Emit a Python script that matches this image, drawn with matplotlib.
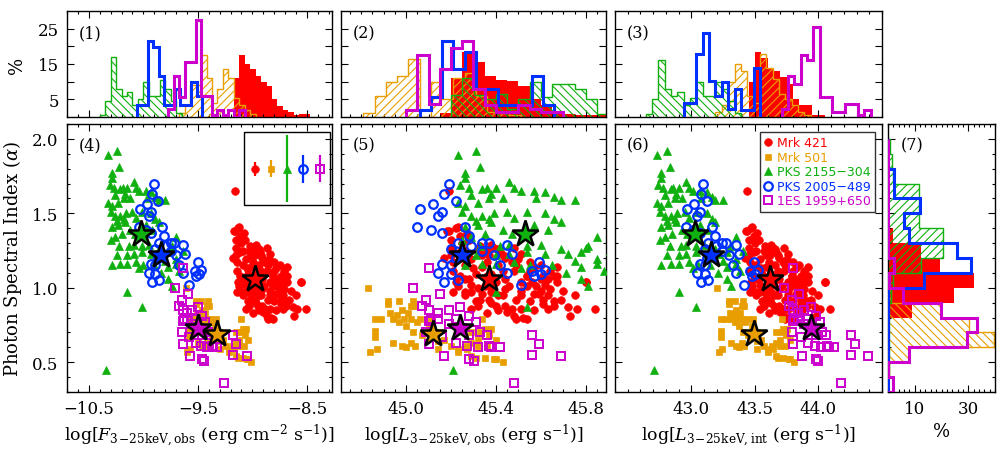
import numpy as np
import matplotlib.pyplot as plt
from matplotlib.ticker import MultipleLocator, FixedLocator, NullFormatter
from matplotlib.lines import Line2D
from matplotlib.patches import Rectangle
import matplotlib.transforms as mtransforms

plt.rcParams['font.family'] = ['DejaVu Serif']
plt.rcParams['mathtext.fontset'] = 'dejavuserif'
plt.rcParams['hatch.linewidth'] = 0.8
plt.rcParams['axes.linewidth'] = 1.0

names = ['Mrk 421', 'Mrk 501', 'PKS 2155\u2212304', 'PKS 2005\u2212489', '1ES 1959+650']
colors = ['#ff0000', '#e89e00', '#0fb00f', '#0030ff', '#cc00cc']

# log(4 pi d_L^2) per source, and offset between observed and intrinsic luminosity
log_4pi_dl2 = [54.35, 54.44, 55.55, 55.09, 54.74]
log_int_corr = [1.75, 1.625, 2.50, 2.095, 1.30]

# mean values (stars) and typical alpha error
mean_logF = [-8.98, -9.32, -10.02, -9.84, -9.50]
mean_alpha = [1.06, 0.69, 1.36, 1.22, 0.73]
typ_err = [0.047, 0.056, 0.224, 0.094, 0.090]

# (log F_3-25keV, alpha) per observation
mrk421 = [(-9.16,1.65),(-9.13,1.40),(-9.17,1.38),(-9.11,1.35),(-9.15,1.32),(-9.07,1.32),(-8.97,1.29),
          (-8.94,1.26),(-8.87,1.27),(-9.03,1.25),(-9.11,1.24),(-9.15,1.22),(-9.06,1.19),(-8.98,1.22),
          (-8.91,1.20),(-8.84,1.23),(-8.80,1.17),(-8.75,1.15),(-8.71,1.11),(-8.69,1.08),(-8.75,1.06),
          (-8.81,1.08),(-8.87,1.11),(-8.94,1.15),(-9.01,1.14),(-9.09,1.15),(-9.14,1.11),(-9.11,1.08),
          (-9.04,1.09),(-8.97,1.09),(-8.91,1.06),(-8.84,1.04),(-8.77,1.01),(-8.71,0.99),(-8.72,0.95),
          (-8.78,0.96),(-8.84,0.98),(-8.91,0.99),(-8.98,1.01),(-9.06,1.02),(-9.12,1.01),(-9.09,0.97),
          (-9.01,0.96),(-8.94,0.95),(-8.86,0.92),(-8.80,0.91),(-8.74,0.89),(-8.69,0.88),(-8.97,0.90),
          (-9.04,0.91),(-8.91,0.88),(-8.84,0.86),(-8.78,0.85),(-8.94,0.85),(-8.87,0.81),(-8.83,0.80),
          (-8.62,0.81),(-8.51,0.86),(-8.55,1.04),(-8.66,0.92),(-8.99,1.08),(-8.87,1.17),(-9.14,1.17),
          (-9.07,1.06),(-9.03,1.00),(-8.95,1.04),(-8.81,1.01),(-8.74,1.08),(-8.68,1.04),(-8.68,1.14),
          (-9.09,1.25),(-8.89,1.01),(-8.99,1.17),(-8.92,1.11),(-8.80,1.11),(-9.15,1.27),(-9.03,0.88),
          (-8.97,0.97),(-8.75,0.98),(-9.14,0.97),(-9.16,1.38),(-9.12,1.41),(-9.08,1.37),(-9.01,1.22),
          (-8.99,1.25),(-8.96,1.27),(-8.92,1.22),(-8.88,1.17),(-8.86,1.15),(-8.81,1.08),(-8.79,1.04),
          (-8.76,0.96),(-8.74,0.92),(-8.72,0.86),(-8.69,0.91),(-8.63,0.87),(-8.59,0.86),(-8.55,1.04),
          (-8.68,1.08),(-8.72,1.06),(-8.86,0.79),(-8.81,0.79),(-8.88,0.86),(-8.95,0.88),(-9.09,0.95),
          (-9.09,1.06),(-9.05,1.13),(-9.06,0.97),(-9.02,0.92),(-8.98,0.92),(-8.92,0.95),(-9.00,1.01),
          (-9.10,1.30),(-9.02,1.28),(-8.93,1.24),(-8.85,1.19),(-8.78,1.13),(-8.73,1.02),(-8.65,0.98),
          (-8.60,0.95),(-8.90,0.84),(-8.99,0.83),(-9.06,0.86),(-9.13,1.04),(-9.18,1.20),(-8.84,0.95)]
mrk501 = [(-9.61,1.00),(-9.58,0.79),(-9.58,0.71),(-9.58,0.67),(-9.57,0.59),(-9.55,0.79),(-9.52,0.89),
          (-9.51,0.83),(-9.50,0.63),(-9.50,0.79),(-9.48,0.82),(-9.47,0.91),(-9.47,0.77),(-9.46,0.85),
          (-9.45,0.79),(-9.44,0.74),(-9.43,0.83),(-9.42,0.88),(-9.42,0.79),(-9.41,0.70),(-9.39,0.77),
          (-9.42,0.63),(-9.44,0.60),(-9.46,0.61),(-9.33,0.79),(-9.30,0.70),(-9.27,0.65),(-9.24,0.61),
          (-9.21,0.59),(-9.18,0.61),(-9.15,0.63),(-9.12,0.65),(-9.11,0.70),(-9.10,0.79),(-9.06,0.72),
          (-9.07,0.68),(-9.08,0.61),(-9.05,0.52),(-9.01,0.50),(-9.13,0.53),(-9.52,0.91),(-9.41,0.91),
          (-9.34,0.74),(-9.15,0.70),(-9.09,0.72),(-9.04,0.65),(-9.12,0.61),(-9.17,0.59),(-9.21,0.57),
          (-9.15,0.54),(-9.09,0.53),(-9.04,0.52),(-9.30,0.64),(-9.37,0.68),(-9.40,0.61),(-9.30,0.59),
          (-9.60,0.57),(-9.40,0.88),(-9.38,0.79)]
pks2155 = [(-10.32,1.89),(-10.24,1.92),(-10.22,1.81),(-10.29,1.77),(-10.29,1.74),(-10.31,1.69),
           (-10.27,1.67),(-10.21,1.66),(-10.19,1.67),(-10.15,1.67),(-10.09,1.71),(-10.07,1.67),
           (-10.17,1.63),(-10.26,1.62),(-10.32,1.57),(-10.29,1.55),(-10.23,1.57),(-10.18,1.60),
           (-10.12,1.60),(-10.04,1.65),(-9.98,1.65),(-9.97,1.60),(-9.93,1.64),(-9.89,1.61),
           (-9.86,1.59),(-9.80,1.59),(-10.26,1.48),(-10.30,1.51),(-10.21,1.48),(-10.16,1.50),
           (-10.10,1.51),(-10.07,1.47),(-10.01,1.51),(-9.93,1.50),(-9.89,1.46),(-9.86,1.44),
           (-9.92,1.39),(-10.29,1.41),(-10.23,1.42),(-10.17,1.44),(-10.12,1.39),(-10.08,1.36),
           (-10.20,1.36),(-10.26,1.34),(-10.30,1.32),(-10.22,1.28),(-10.13,1.28),(-10.09,1.29),
           (-10.01,1.28),(-9.95,1.29),(-9.86,1.26),(-9.75,1.27),(-9.70,1.34),(-9.74,1.28),
           (-10.15,1.22),(-10.09,1.23),(-10.01,1.24),(-9.93,1.23),(-9.83,1.23),(-9.77,1.24),
           (-9.70,1.19),(-10.29,1.15),(-10.15,1.16),(-10.07,1.17),(-10.00,1.15),(-9.90,1.15),
           (-9.77,1.14),(-9.70,1.16),(-9.67,1.11),(-9.84,1.10),(-9.77,1.06),(-9.74,1.01),
           (-10.15,0.97),(-10.01,0.87),(-10.34,0.45),(-10.24,1.45),(-10.18,1.46),(-10.02,1.36),
           (-9.98,1.42),(-10.24,1.22),(-10.04,1.13),(-9.80,1.18),(-9.64,1.25),(-10.21,1.16)]
pks2005 = [(-9.90,1.70),(-9.92,1.63),(-10.03,1.53),(-9.97,1.56),(-9.93,1.51),(-9.95,1.48),(-9.87,1.58),
           (-10.04,1.41),(-9.98,1.39),(-9.93,1.37),(-9.83,1.41),(-9.81,1.35),(-9.80,1.28),(-9.86,1.30),
           (-9.89,1.26),(-9.93,1.16),(-9.95,1.10),(-9.89,1.09),(-9.92,1.04),(-9.86,1.05),(-9.89,1.15),
           (-9.83,1.22),(-9.75,1.25),(-9.72,1.30),(-9.70,1.22),(-9.64,1.29),(-9.62,1.23),(-9.67,1.15),
           (-9.64,1.10),(-9.50,1.17),(-9.53,1.11),(-9.49,1.09),(-9.52,1.08),(-9.47,1.12),(-9.58,1.02),
           (-9.75,1.30),(-9.87,1.20)]
es1959 = [(-9.64,1.13),(-9.71,1.00),(-9.59,0.96),(-9.65,0.92),(-9.64,0.85),(-9.63,0.79),(-9.55,0.85),
          (-9.50,0.87),(-9.46,0.81),(-9.43,0.77),(-9.65,0.70),(-9.58,0.67),(-9.52,0.63),(-9.47,0.61),
          (-9.42,0.60),(-9.36,0.60),(-9.32,0.60),(-9.38,0.68),(-9.64,0.62),(-9.57,0.54),(-9.44,0.51),
          (-9.18,0.68),(-9.15,0.62),(-9.18,0.55),(-9.05,0.54),(-9.26,0.36),(-9.60,0.79),(-9.52,0.79),
          (-9.60,0.83),(-9.64,0.78),(-9.55,0.76),(-9.49,0.73),(-9.41,0.70),(-9.46,0.68),(-9.67,0.88),
          (-9.46,0.52),(-9.37,0.61)]
obs = [mrk421, mrk501, pks2155, pks2005, es1959]

# histograms (percent), bin width 0.05 dex; first bin edge per source
h1_start = [-9.17, -9.67, -10.40, -10.06, -9.77]
h1 = [[11, 17.4, 15, 13.6, 11.7, 10, 8.7, 5.2, 3.1, 1.9, 1.4, 0.5, 0.9, 0.9],
      [1, 3.5, 9, 9, 17.5, 11, 4, 8, 13.6, 11, 5.5, 3.5, 1.9, 0.9],
      [0.5, 4.5, 17, 8, 6, 7, 3.5, 5, 10, 6, 6, 10.5, 8, 4.5, 1],
      [3.5, 3.5, 21.6, 19.7, 11.5, 3.5, 3.5, 8, 3.5, 3.5, 10, 6],
      [2.3, 11.7, 5.6, 15.7, 15.7, 27.5, 6, 6, 0.5, 1.9, 0.5, 1.9, 0, 1.9]]
h2_start = [45.15, 44.81, 45.20, 45.06, 45.00]
h2 = [[1.1, 11, 18.5, 15.7, 11.5, 10.6, 10.3, 8.7, 5, 3.5, 1.4, 0.9, 0.5, 0.5, 0.5],
      [1, 6, 10, 11.5, 16.3, 0, 10, 5, 11, 12.5, 6, 1.5, 1, 0.5],
      [6.3, 11, 6.1, 5.2, 6.6, 2.3, 5.2, 10, 5.6, 9.4, 9.4, 8, 5.2, 0.7],
      [1.9, 5.6, 21.6, 13.6, 18.3, 7.8, 7.8, 3.5, 3.5, 3.5, 11.7, 3.5],
      [1.9, 17.5, 3.8, 13.6, 19.4, 21.6, 7.8, 3.5, 1.4, 1.4, 3.5, 2.3, 1.4, 1.4]]
h3_start = [43.45, 43.19, 42.64, 42.94, 43.71]
h3 = [[9.9, 18.3, 16.6, 13.6, 13.1, 11.3, 9.4, 5.2, 3.3, 3.3, 0.5, 0.5],
      [1.5, 3.5, 10, 15, 13, 6, 4, 17.8, 14, 10.8, 6.6, 5.2, 3.3, 1.4, 0.5],
      [0.7, 5.2, 16, 8, 6, 7, 3.5, 5.5, 10, 6, 6, 10, 8, 4.5, 1],
      [4, 4, 17.8, 23.8, 10.3, 5.9, 10, 2.3, 8, 1.9, 1.9, 13.8],
      [2.3, 11.7, 9.4, 17.5, 16, 25.6, 5.6, 5.6, 1.4, 1.4, 3.8, 3.8, 0.5, 1.9]]
# alpha histograms, bins 0.3-2.0 step 0.1
alpha_edges = np.round(np.arange(0.3, 2.01, 0.1), 2)
h7 = [[0, 0, 0, 0, 0, 8.8, 24.5, 32, 19.5, 12.4, 2, 0, 0, 0.4, 0, 0, 0],
      [0, 0.5, 7.8, 39.8, 30.2, 19.9, 1, 0, 0, 0, 0, 0, 0, 0, 0, 0, 0],
      [0, 0.5, 0.3, 0.3, 0.3, 0.5, 1.0, 1.8, 12.4, 20.7, 20.7, 11.5, 11.5, 11.5, 1.8, 1.6, 0.6],
      [0, 0, 0, 0, 0, 0, 0, 13.6, 30.9, 25.9, 7.8, 5.8, 12.0, 2.2, 2.2, 0, 0],
      [1.8, 0, 7.8, 29.5, 33.2, 19.9, 5.5, 0.5, 2.2, 0, 0, 0, 0, 0, 0, 0, 0]]

x_ticks = [[-10.5, -9.5, -8.5], [45.0, 45.4, 45.8], [43.0, 43.5, 44.0]]

marker_styles = [dict(marker='o', ms=5.5, mew=0.5),
                 dict(marker='s', ms=4.8, mew=0.5),
                 dict(marker='^', ms=5.8, mew=0.5),
                 dict(marker='o', ms=6.2, mew=1.6, mfc='none'),
                 dict(marker='s', ms=6, mew=1.4, mfc='none')]
hatches_v = [None, '////', '\\\\\\\\', None, None]
hatches_h = [None, '\\\\\\\\', '////', None, None]


def draw_hist(ax, values, edges, i, hatches, orientation='vertical'):
    c = colors[i]
    if i == 0:
        ax.stairs(values, edges, fill=True, color=c, lw=0, orientation=orientation, zorder=1)
    elif hatches[i]:
        ax.stairs(values, edges, fill=True, facecolor='none', edgecolor=c, hatch=hatches[i],
                  lw=1.0, orientation=orientation, zorder=2)
    else:
        ax.stairs(values, edges, fill=False, color=c, lw=2.2, orientation=orientation, zorder=3)


def style_axes(ax):
    ax.tick_params(which='both', direction='in', top=True, right=True, labelsize=12, pad=6)
    ax.tick_params(which='major', length=5, width=0.8)
    ax.tick_params(which='minor', length=2.5, width=0.8)


fig = plt.figure(figsize=(10, 4.52), dpi=100)
ax1 = fig.add_axes([0.067, 0.739, 0.265, 0.2345])
ax2 = fig.add_axes([0.341, 0.739, 0.265, 0.2345])
ax3 = fig.add_axes([0.615, 0.739, 0.267, 0.2345])
ax4 = fig.add_axes([0.067, 0.1305, 0.265, 0.593])
ax5 = fig.add_axes([0.341, 0.1305, 0.265, 0.593])
ax6 = fig.add_axes([0.615, 0.1305, 0.267, 0.593])
ax7 = fig.add_axes([0.888, 0.1305, 0.107, 0.593])

xlims = [(-10.7, -8.27), (44.71, 45.89), (42.4, 44.5)]
minors = [0.1, 0.05, 0.1]

# top histograms
for ax, starts, hs, lim, tk, mn in zip([ax1, ax2, ax3], [h1_start, h2_start, h3_start],
                                      [h1, h2, h3], xlims, x_ticks, minors):
    for i in range(5):
        edges = starts[i] + 0.05 * np.arange(len(hs[i]) + 1)
        draw_hist(ax, hs[i], edges, i, hatches_v)
    ax.set_xlim(*lim)
    ax.set_ylim(0, 30)
    ax.xaxis.set_major_locator(FixedLocator(tk))
    ax.xaxis.set_minor_locator(MultipleLocator(mn))
    ax.xaxis.set_major_formatter(NullFormatter())
    ax.yaxis.set_major_locator(FixedLocator([5, 15, 25]))
    ax.yaxis.set_minor_locator(FixedLocator([10, 20]))
    style_axes(ax)
    ax.tick_params(which='minor', axis='y', length=5)
ax1.set_ylabel('%', fontsize=13, labelpad=8)
ax2.yaxis.set_major_formatter(NullFormatter())
ax3.yaxis.set_major_formatter(NullFormatter())

# scatter panels
for k, ax in enumerate([ax4, ax5, ax6]):
    for i in range(5):
        d = np.array(obs[i])
        x = d[:, 0].copy()
        if k >= 1:
            x = x + log_4pi_dl2[i]
        if k == 2:
            x = x - log_int_corr[i]
        st = dict(marker_styles[i])
        st.setdefault('mfc', colors[i])
        ax.plot(x, d[:, 1], ls='none', mec=colors[i], zorder=2 + i, **st)
    for i in [2, 3, 0, 4, 1]:
        mx = mean_logF[i]
        if k >= 1:
            mx = mx + log_4pi_dl2[i]
        if k == 2:
            mx = mx - log_int_corr[i]
        ax.plot(mx, mean_alpha[i], marker='*', ms=20, mfc=colors[i], mec='black', mew=1.8,
                ls='none', zorder=20)
    ax.set_xlim(*xlims[k])
    ax.set_ylim(0.3, 2.1)
    ax.xaxis.set_major_locator(FixedLocator(x_ticks[k]))
    ax.xaxis.set_minor_locator(MultipleLocator(minors[k]))
    ax.yaxis.set_major_locator(MultipleLocator(0.5))
    ax.yaxis.set_minor_locator(MultipleLocator(0.1))
    style_axes(ax)
ax5.yaxis.set_major_formatter(NullFormatter())
ax6.yaxis.set_major_formatter(NullFormatter())
ax4.xaxis.set_major_formatter(lambda v, p: f'{v:.1f}'.replace('-', '\u2212'))
ax5.xaxis.set_major_formatter(lambda v, p: f'{v:.1f}')
ax6.xaxis.set_major_formatter(lambda v, p: f'{v:.1f}')

ax4.set_ylabel(r'Photon Spectral Index ($\alpha$)', fontsize=13, labelpad=6)
ax4.set_xlabel(r'$\log[F_{\rm 3\!-\!25keV,obs}\ ({\rm erg\ cm^{-2}\ s^{-1}})]$', fontsize=12.5, labelpad=3)
ax5.set_xlabel(r'$\log[L_{\rm 3\!-\!25keV,obs}\ ({\rm erg\ s^{-1}})]$', fontsize=12.5, labelpad=3)
ax6.set_xlabel(r'$\log[L_{\rm 3\!-\!25keV,int}\ ({\rm erg\ s^{-1}})]$', fontsize=12.5, labelpad=3)

# typical error bars box in panel 4
ax4.add_patch(Rectangle((0.669, 0.698), 0.323, 0.272, transform=ax4.transAxes,
                        fill=False, lw=1.0, zorder=25))
trans = mtransforms.blended_transform_factory(ax4.transAxes, ax4.transData)
inset_x = [0.711, 0.769, 0.829, 0.892, 0.955]
for i in range(5):
    st = dict(marker_styles[i])
    st.setdefault('mfc', colors[i])
    ax4.errorbar(inset_x[i], 1.80, yerr=typ_err[i], color=colors[i], mec=colors[i],
                 elinewidth=1.6, capsize=0, transform=trans, zorder=26, **st)

# legend in panel 6
handles = []
for i in range(5):
    st = dict(marker_styles[i])
    st.setdefault('mfc', colors[i])
    handles.append(Line2D([], [], ls='none', mec=colors[i], **st))
leg = ax6.legend(handles, names, loc='upper right', bbox_to_anchor=(0.975, 0.97),
                 borderaxespad=0, frameon=True, fancybox=False, edgecolor='black',
                 handlelength=0.6, handletextpad=0.4, labelspacing=0.12, borderpad=0.35,
                 labelcolor=colors, prop={'family': 'DejaVu Sans', 'size': 9})
leg.get_frame().set_linewidth(1.0)
leg.set_zorder(30)

# alpha histogram
for i in range(5):
    draw_hist(ax7, h7[i], alpha_edges, i, hatches_h, orientation='horizontal')
ax7.set_ylim(0.3, 2.1)
ax7.set_xlim(0, 40)
ax7.yaxis.set_major_locator(MultipleLocator(0.5))
ax7.yaxis.set_minor_locator(MultipleLocator(0.1))
ax7.yaxis.set_major_formatter(NullFormatter())
ax7.xaxis.set_major_locator(FixedLocator([10, 30]))
ax7.xaxis.set_minor_locator(MultipleLocator(2))
style_axes(ax7)
ax7.set_xlabel('%', fontsize=13, labelpad=3)

for ax, lab in zip([ax1, ax2, ax3], ['(1)', '(2)', '(3)']):
    ax.text(0.045, 0.87, lab, transform=ax.transAxes, ha='left', va='top', fontsize=11.5)
for ax, lab in zip([ax4, ax5, ax6, ax7], ['(4)', '(5)', '(6)', '(7)']):
    ax.text(0.045 if ax is not ax7 else 0.12, 0.955, lab, transform=ax.transAxes,
            ha='left', va='top', fontsize=11.5)

fig.savefig('out.png', dpi=100)
